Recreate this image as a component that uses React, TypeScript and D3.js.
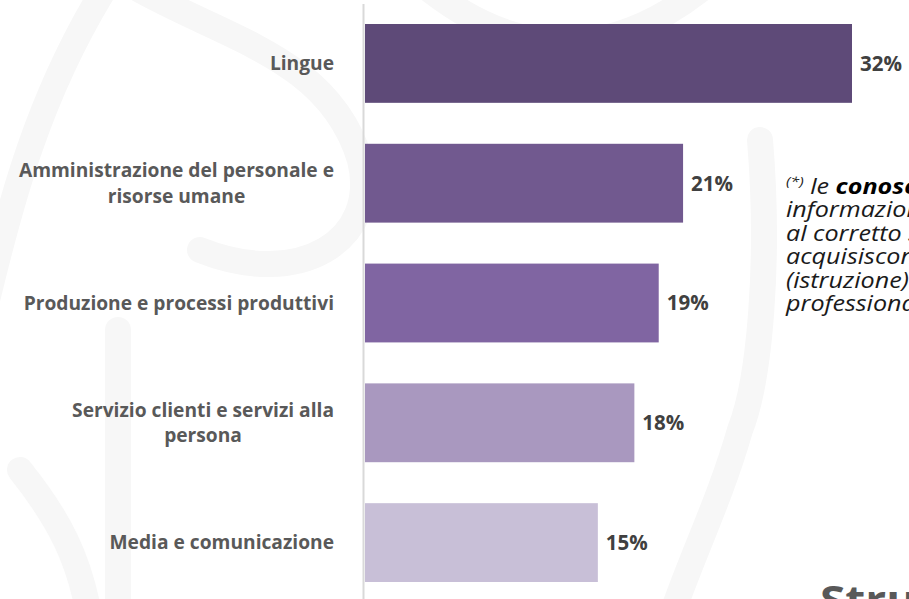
import React, { useEffect, useRef } from "react";
import * as d3 from "d3";

const categories: string[][] = [
  ["Lingue"],
  ["Amministrazione del personale e", "risorse umane"],
  ["Produzione e processi produttivi"],
  ["Servizio clienti e servizi alla", "persona"],
  ["Media e comunicazione"],
];
const values: number[] = [32.0, 20.9, 19.3, 17.7, 15.3];
const barColors: string[] = ["#5e4a78", "#71598f", "#8065a2", "#a998bf", "#c8bfd7"];

const noteLines: { parts: { t: string; bold?: boolean; sup?: boolean }[] }[] = [
  { parts: [{ t: "(*)", sup: true }, { t: " le " }, { t: "conoscenze", bold: true }, { t: " sono l'insieme di" }] },
  { parts: [{ t: "informazioni e nozioni necessarie" }] },
  { parts: [{ t: "al corretto svolgimento del lavoro, che si" }] },
  { parts: [{ t: "acquisiscono attraverso percorsi formali" }] },
  { parts: [{ t: "(istruzione) e/o informali (esperienza" }] },
  { parts: [{ t: "professionale)" }] },
];
const bottomTitle = "Struttura";

const W = 909;
const H = 599;

export default function App() {
  const ref = useRef<SVGSVGElement | null>(null);

  useEffect(() => {
    document.body.style.margin = "0";
    const svg = d3.select(ref.current);
    svg.selectAll("*").remove();

    // faint watermark
    const wm = svg
      .append("g")
      .attr("fill", "none")
      .attr("stroke", "#f7f7f7")
      .attr("stroke-width", 26)
      .attr("stroke-linecap", "round");
    wm.append("path").attr("d", "M -20 330 C 10 200, 40 90, 110 -20");
    wm.append("path").attr("d", "M 140 -10 C 230 40, 330 60, 360 160 C 380 240, 300 290, 200 250");
    wm.append("path").attr("d", "M 118 330 L 118 620");
    wm.append("path").attr("d", "M 20 470 C 60 520, 80 560, 90 620");
    wm.append("path").attr("d", "M 760 140 C 770 260, 760 380, 740 430 C 720 500, 690 560, 670 620");
    wm.append("path").attr("d", "M 430 -10 C 520 60, 610 60, 700 -10");

    const x = d3.scaleLinear().domain([0, 32]).range([365, 852]);
    const y = d3
      .scaleBand<number>()
      .domain(d3.range(values.length))
      .range([24, 582])
      .paddingInner(0.342)
      .paddingOuter(0);

    // axis line
    svg
      .append("line")
      .attr("x1", 363.5)
      .attr("x2", 363.5)
      .attr("y1", 4)
      .attr("y2", H)
      .attr("stroke", "#d9d9d9")
      .attr("stroke-width", 2);

    // bars
    svg
      .append("g")
      .selectAll("rect")
      .data(values)
      .join("rect")
      .attr("x", x(0))
      .attr("y", (_d, i) => y(i)!)
      .attr("width", (d) => x(d) - x(0))
      .attr("height", y.bandwidth())
      .attr("fill", (_d, i) => barColors[i]);

    // value labels
    svg
      .append("g")
      .selectAll("text")
      .data(values)
      .join("text")
      .attr("x", (d) => x(d) + 8)
      .attr("y", (_d, i) => y(i)! + y.bandwidth() / 2)
      .attr("dy", "0.36em")
      .attr("font-family", "'Open Sans', sans-serif")
      .attr("font-weight", 700)
      .attr("font-size", 20.5)
      .attr("fill", "#404040")
      .text((d) => d3.format(".0f")(d) + "%");

    // category labels: block right-aligned, lines centred within block
    const lineH = 25.5;
    const rightEdge = 334;
    categories.forEach((lines, i) => {
      const g = svg.append("g");
      const cy = y(i)! + y.bandwidth() / 2;
      const texts = lines.map((ln, k) =>
        g
          .append("text")
          .attr("font-family", "'Open Sans', sans-serif")
          .attr("font-weight", 700)
          .attr("font-size", 19.2)
          .attr("fill", "#595959")
          .attr("text-anchor", "middle")
          .attr("y", cy + (k - (lines.length - 1) / 2) * lineH)
          .attr("dy", "0.36em")
          .text(ln)
      );
      const widths = texts.map((t) => (t.node() as SVGTextElement).getComputedTextLength());
      const maxW = d3.max(widths) || 0;
      texts.forEach((t) => t.attr("x", rightEdge - maxW / 2));
    });

    // note text (wide letterforms: horizontally scaled)
    const noteG = svg.append("g").attr("transform", "translate(786,0) scale(1.17,1)");
    const note0 = 194;
    const noteStep = 23.5;
    noteLines.forEach((ln, k) => {
      const t = noteG
        .append("text")
        .attr("x", 0)
        .attr("y", note0 + k * noteStep)
        .attr("font-family", "'Open Sans', sans-serif")
        .attr("font-style", "italic")
        .attr("font-size", 21.5)
        .attr("fill", "#1a1a1a");
      ln.parts.forEach((p) => {
        const ts = t.append("tspan").text(p.t);
        if (p.bold) ts.attr("font-weight", 700).attr("fill", "#000");
        if (p.sup) ts.attr("font-size", 13.5).attr("dy", -8);
        else if (k === 0 && p.t === " le ") ts.attr("dy", 8);
      });
    });

    // bottom title (cropped)
    svg
      .append("g")
      .attr("transform", "translate(820,614) scale(1.15,1)")
      .append("text")
      .attr("x", 0)
      .attr("y", 0)
      .attr("font-family", "'Open Sans', sans-serif")
      .attr("font-weight", 700)
      .attr("font-size", 40)
      .attr("fill", "#595959")
      .text(bottomTitle);
  }, []);

  return (
    <svg
      ref={ref}
      width={W}
      height={H}
      viewBox={`0 0 ${W} ${H}`}
      style={{ position: "absolute", left: 0, top: 0, background: "#ffffff", overflow: "hidden" }}
    />
  );
}
